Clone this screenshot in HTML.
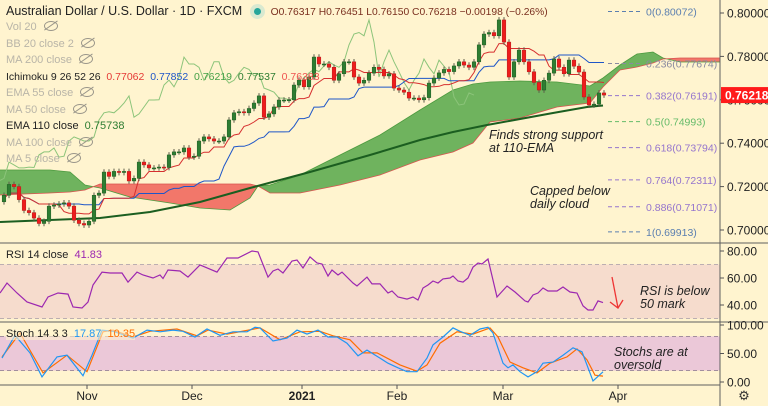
<!DOCTYPE html>
<html><head><meta charset="utf-8">
<style>
html,body{margin:0;padding:0;background:#fff4cf;}
body{width:768px;height:406px;overflow:hidden;position:relative;font-family:"Liberation Sans",sans-serif;}
svg{position:absolute;left:0;top:0;}
.lg{position:absolute;left:6px;font-size:11px;color:#b9b5a8;white-space:nowrap;}
.lg.on{color:#222;}
.eye{display:inline-block;width:12px;height:8px;border:1.3px solid #9a968a;border-radius:50%;margin-left:7px;vertical-align:-1px;position:relative;}
.eye:after{content:"";position:absolute;left:-2px;top:3px;width:16px;height:1.3px;background:#9a968a;transform:rotate(-35deg);}
.ann{position:absolute;font-style:italic;font-size:12.5px;line-height:13px;color:#222;font-family:"Liberation Sans",sans-serif;}
</style></head><body>
<svg id="chart" width="768" height="406" xmlns="http://www.w3.org/2000/svg"></svg>

<div class="lg on" style="top:4px;font-size:12.5px;color:#222">Australian Dollar / U.S. Dollar · 1D · FXCM <span style="display:inline-block;width:7px;height:7px;border-radius:50%;background:#26a69a;box-shadow:0 0 0 4px #d9e9d0;margin:0 10px 0 8px"></span><span style="color:#7a2f1f;font-size:10.3px">O0.76317 H0.76451 L0.76150 C0.76218 −0.00198 (−0.26%)</span></div>
<div class="lg" style="top:21px">Vol 20<span class="eye"></span></div>
<div class="lg" style="top:38px">BB 20 close 2<span class="eye"></span></div>
<div class="lg" style="top:54px">MA 200 close<span class="eye"></span></div>
<div class="lg on" style="top:71px;font-size:10.5px">Ichimoku 9 26 52 26 &nbsp;<span style="color:#e53935">0.77062</span> &nbsp;<span style="color:#1e56c8">0.77852</span> &nbsp;<span style="color:#43a047">0.76219</span> &nbsp;<span style="color:#2e7d32">0.77537</span> &nbsp;<span style="color:#ef5350">0.76383</span></div>
<div class="lg" style="top:87px">EMA 55 close<span class="eye"></span></div>
<div class="lg" style="top:104px">MA 50 close<span class="eye"></span></div>
<div class="lg on" style="top:120px">EMA 110 close &nbsp;<span style="color:#2e7d32">0.75738</span></div>
<div class="lg" style="top:137px">MA 100 close<span class="eye"></span></div>
<div class="lg" style="top:153px">MA 5 close<span class="eye"></span></div>
<div class="lg on" style="top:249px">RSI 14 close &nbsp;<span style="color:#9c27b0">41.83</span></div>
<div class="lg on" style="top:328px;background:rgba(255,244,207,0.6)">Stoch 14 3 3 &nbsp;<span style="color:#2196f3">17.87</span> &nbsp;<span style="color:#ff6d00">10.35</span></div>

<div class="ann" style="left:489px;top:129px">Finds strong support<br>at 110-EMA</div>
<div class="ann" style="left:530px;top:185px">Capped below<br>daily cloud</div>
<div class="ann" style="left:640px;top:285px">RSI is below<br>50 mark</div>
<div class="ann" style="left:614px;top:346px">Stochs are at<br>oversold</div>

<script>
const closes=[.716,.721,.720,.714,.709,.708,.7055,.703,.704,.711,
.7115,.712,.7125,.711,.7045,.703,.7023,.704,.716,.717,
.7267,.7247,.727,.7265,.727,.7226,.7238,.7313,.730,.7286,
.7286,.729,.7288,.7346,.736,.736,.7378,.7336,.734,.741,
.7429,.742,.741,.741,.7429,.7507,.754,.7545,.754,.756,
.7585,.7618,.752,.7535,.7567,.7599,.7599,.760,.7668,.7691,
.766,.7705,.7797,.7765,.7765,.775,.769,.772,.7775,.7775,
.7705,.7677,.769,.7723,.775,.774,.771,.772,.7654,.7645,
.7635,.7608,.7608,.760,.761,.7677,.770,.7724,.774,.773,
.7756,.7775,.776,.775,.7775,.7853,.7903,.791,.7895,.7968,
.7866,.7705,.7775,.7829,.7775,.7729,.768,.7645,.769,.7723,
.7788,.775,.772,.7783,.7755,.7728,.7613,.7576,.758,.76317,.76218];
const firstOpen=.713;
const cloudIdx=[-1,9.2,13.2,16.2,19.2,25.2,33.2,39.2,45.2,49.2,50.8,53.2,59.2,67.2,75.2,83.2,89.8,93.8,97.2,103.2,110.6,117.2,119.8,123.2,126.6,129.8,131.8,135.2,139.2,143.2];
const spanA=[.72765,.72765,.72673,.72074,.71935,.71521,.71244,.71014,.70922,.71475,.72028,.72074,.72535,.73456,.74378,.7553,.76452,.76728,.7682,.76866,.7682,.76636,.77005,.77604,.78111,.78203,.77926,.77742,.77742,.77742];
const spanB=[.71613,.71705,.71751,.71843,.7212,.7212,.7212,.7212,.7212,.7212,.72028,.71705,.71705,.72074,.72535,.73226,.73594,.74009,.74977,.75161,.75668,.75853,.7659,.77373,.77512,.77696,.7788,.77926,.77926,.77926];
const emaIdx=[-0.8,19.2,29.2,39.2,49.2,61.2,73.2,83.2,89.8,96.6,109.8,116.6,119.8];
const emaVals=[.70369,.70553,.7083,.7129,.71935,.72673,.73456,.74147,.74516,.74839,.75392,.75668,.75738];
const rsiIdx=[-0.8,0.6,2.6,4.6,7.6,8.8,10.8,12.8,13.8,15.6,16.8,17.8,19.6,21.2,23.6,24.8,26.6,27.8,29.8,31.2,31.8,32.8,35.2,36.8,39.2,42.6,44.6,46.8,49.6,50.8,52.8,53.8,54.8,55.8,57.6,58.6,59.8,61.2,62.6,63.6,64.8,65.6,66.8,67.6,69.8,70.6,72.6,73.6,75.2,76.8,77.6,78.8,80.6,81.8,82.8,83.8,84.8,85.8,86.8,87.8,89.2,89.8,90.8,91.8,92.8,93.8,94.8,95.6,96.8,98.6,100.6,102.2,104.2,104.8,105.8,106.8,107.8,108.8,110.6,111.8,113.2,114.6,115.8,116.8,117.8,118.8,119.8];
const rsiVals=[48.9,56.3,48.9,42.2,38.5,45.9,48.9,48.1,38.5,37.8,42.2,54.8,64.4,63.7,63.7,57.0,64.4,62.2,60.0,62.2,59.6,65.9,65.2,60.7,69.6,64.4,74.8,74.8,80,79.3,60.7,65.2,66.7,63.7,72.6,73.3,67.4,75.6,71.1,70.4,61.5,65.9,62.2,64.4,56.3,54.1,60.7,55.6,55.6,48.9,50.4,45.9,44.4,45.9,43.7,52.6,54.8,57.8,56.3,59.3,60,61.5,57.8,57.0,60,68.1,71.1,70.4,74.1,45.9,54.1,49.6,43.0,42.2,47.4,48.9,52.6,50.4,50.4,53.3,49.6,48.9,39.3,36.3,36.3,43.0,41.8];
const kIdx=[-0.4,2.2,5.2,7.6,10.6,12.6,15.8,17.6,19.6,21.8,25.8,28.6,31.2,33.8,35.8,38.2,40.6,43.2,45.8,48.6,50.2,51.2,53.8,56.6,58.6,60.6,62.8,64.8,66.6,68.6,70.8,72.6,75.2,76.8,78.8,80.6,82.6,84.6,85.8,87.8,89.8,91.2,93.2,95.2,96.8,97.8,99.8,100.8,101.8,103.2,104.8,106.6,107.8,109.8,111.8,113.8,115.6,117.8,119.8];
const kVals=[42,82,51,9,44,47,11,47,91,89,77,91,88,91,89,79,93,82,88,88,96,95,72,77,91,84,91,79,79,68,46,56,42,33,25,18,18,42,65,79,95,89,82,93,96,86,33,25,30,18,9,18,33,35,47,60,53,2,17.9];
const dIdx=[-0.4,3.2,7.8,12.6,16.6,19.8,21.8,25.8,29.2,34.6,38.6,40.8,44.6,51.2,55.2,59.2,63.2,65.8,69.2,71.8,74.6,79.2,82.6,84.6,87.2,90.6,93.8,97.2,98.8,101.2,103.8,106.6,109.2,112.6,114.6,116.6,118.2,119.8];
const dVals=[44,86,16,47,18,88,91,79,89,93,81,91,84,95,74,88,89,81,74,51,51,30,19,30,68,88,84,95,79,35,25,16,33,44,58,39,12,10.4];
const priceTicks=[0.80,0.78,0.76,0.74,0.72,0.70];
const rsiTicks=[80,60,40];
const stochTicks=[100,50,0];
const dateIdx=[16.6,37.6,59.6,78.6,99.8,122.8];
const dateLabels=["Nov","Dec","2021","Feb","Mar","Apr"];
const fibRatios=["0","0.236","0.382","0.5","0.618","0.764","0.886","1"];
const fibPrices=[0.80072,0.77674,0.76191,0.74993,0.73794,0.72311,0.71071,0.69913];
const fibColors=["#5b7fb0","#8a8aa0","#9575cd","#66bb6a","#9575cd","#9575cd","#9575cd","#5b7fb0"];

const NS="http://www.w3.org/2000/svg";
const svg=document.getElementById('chart');
function X(i){return 4+i*5;}
function Y(p){return 13+(0.80-p)/0.10*217;}
function RY(v){return 251+(80-v)*27/20;}
function SY(v){return 382-v*0.57;}
function el(tag,attrs,parent){const e=document.createElementNS(NS,tag);for(const k in attrs)e.setAttribute(k,attrs[k]);(parent||svg).appendChild(e);return e;}
function pts(ix,vs,f){return ix.map((i,k)=>X(i).toFixed(1)+','+f(vs[k]).toFixed(1)).join(' ');}

const defs=el('defs',{});
const cp=el('clipPath',{id:'pc'},defs);el('rect',{x:0,y:0,width:720,height:243},cp);
const cr=el('clipPath',{id:'rc'},defs);el('rect',{x:0,y:243,width:720,height:79},cr);
const cs=el('clipPath',{id:'sc'},defs);el('rect',{x:0,y:322,width:720,height:63},cs);

const pane=el('g',{'clip-path':'url(#pc)'});



for(let k=0;k<cloudIdx.length-1;k++){
  const a0=spanA[k],a1=spanA[k+1],b0=spanB[k],b1=spanB[k+1];
  const d0=a0-b0,d1=a1-b1;
  const x0=X(cloudIdx[k]),x1=X(cloudIdx[k+1]);
  const draw=(xs,as,bs,col)=>{const p=el('polygon',{points:`${xs[0]},${Y(as[0])} ${xs[1]},${Y(as[1])} ${xs[1]},${Y(bs[1])} ${xs[0]},${Y(bs[0])}`,fill:col,stroke:'none'},pane);
    
    };
  if(d0*d1<0){const t=d0/(d0-d1);const xm=x0+(x1-x0)*t;const am=a0+(a1-a0)*t;
    draw([x0,xm],[a0,am],[b0,am],d0>0?'#6fb35e':'#f2776a');
    draw([xm,x1],[am,a1],[am,b1],d1>0?'#6fb35e':'#f2776a');}
  else draw([x0,x1],[a0,a1],[b0,b1],(d0+d1)>=0?'#6fb35e':'#f2776a');
}
let pl=el('polyline',{points:pts(cloudIdx,spanA,Y),fill:'none',stroke:'#4c9a3f','stroke-width':0.8},pane);

pl=el('polyline',{points:pts(cloudIdx,spanB,Y),fill:'none',stroke:'#d9534f','stroke-width':0.8},pane);


const opens=closes.map((c,i)=>i?closes[i-1]:firstOpen);
const highs=closes.map((c,i)=>Math.max(c,opens[i])+0.0013);
const lows=closes.map((c,i)=>Math.min(c,opens[i])-0.0013);
function mid(i,n){let h=-1,l=9;for(let j=Math.max(0,i-n+1);j<=i;j++){h=Math.max(h,highs[j]);l=Math.min(l,lows[j]);}return (h+l)/2;}
const idxs=closes.map((c,i)=>i);
pl=el('polyline',{points:idxs.map(i=>X(i-26)+','+Y(closes[i]).toFixed(1)).join(' '),fill:'none',stroke:'#8cc47a','stroke-width':1},pane);

pl=el('polyline',{points:idxs.map(i=>X(i)+','+Y(mid(i,26)).toFixed(1)).join(' '),fill:'none',stroke:'#1e56c8','stroke-width':1},pane);

pl=el('polyline',{points:idxs.map(i=>X(i)+','+Y(mid(i,9)).toFixed(1)).join(' '),fill:'none',stroke:'#d62f2f','stroke-width':1},pane);

pl=el('polyline',{points:pts(emaIdx,emaVals,Y),fill:'none',stroke:'#1b5e20','stroke-width':2},pane);


closes.forEach((c,i)=>{
  const o=opens[i],up=c>=o,x=X(i);
  const g=el('g',{},pane);
  
  
  el('line',{x1:x,x2:x,y1:Y(highs[i]),y2:Y(lows[i]),stroke:'#5d5d4a','stroke-width':1},g);
  const top=Y(Math.max(o,c)),bot=Y(Math.min(o,c));
  el('rect',{x:x-1.8,y:top,width:3.6,height:Math.max(1,bot-top),fill:up?'#2e7d32':'#ee1c1c',stroke:up?'#1f5e22':'#b71c1c','stroke-width':0.5},g);
});

fibPrices.forEach((p,k)=>{
  const y=Y(p);
  const l=el('line',{x1:608,x2:641,y1:y,y2:y,stroke:fibColors[k],'stroke-width':1,'stroke-dasharray':'4,3'});
  
  const t=el('text',{x:646,y:y+4,fill:fibColors[k],'font-size':10.5,'font-family':'Liberation Sans, sans-serif'});
  t.textContent=fibRatios[k]+'('+p.toFixed(5)+')';
  
});

let r=el('rect',{x:0,y:RY(70),width:720,height:RY(30)-RY(70),fill:'#f6dccd'});

[70,30].forEach(v=>{el('line',{x1:0,x2:720,y1:RY(v),y2:RY(v),stroke:'#a89aa8','stroke-dasharray':'4,3','stroke-width':0.8});});
pl=el('polyline',{points:pts(rsiIdx,rsiVals,RY),fill:'none',stroke:'#9c27b0','stroke-width':1.2,'clip-path':'url(#rc)'});


r=el('rect',{x:0,y:SY(80),width:720,height:SY(20)-SY(80),fill:'#ebc8d8'});

[80,20].forEach(v=>{el('line',{x1:0,x2:720,y1:SY(v),y2:SY(v),stroke:'#8a7a8a','stroke-dasharray':'4,3','stroke-width':0.8});});
pl=el('polyline',{points:pts(dIdx,dVals,SY),fill:'none',stroke:'#ff6d00','stroke-width':1.2,'clip-path':'url(#sc)'});

pl=el('polyline',{points:pts(kIdx,kVals,SY),fill:'none',stroke:'#2196f3','stroke-width':1.2,'clip-path':'url(#sc)'});


[[0,243,768,243],[0,322,768,322],[0,385,720,385],[720,0,720,406]].forEach(s=>{
  const l=el('line',{x1:s[0],y1:s[1],x2:s[2],y2:s[3],stroke:'#5f5f5f','stroke-width':1});
  
});

function tick(y,txt,name){el('line',{x1:720,x2:724,y1:y,y2:y,stroke:'#555'});
  const t=el('text',{x:727,y:y+4.5,fill:'#222','font-size':12,'font-family':'Liberation Sans, sans-serif'});t.textContent=txt;
  }
priceTicks.forEach(p=>tick(Y(p),p.toFixed(5),'price-tick-label'));
rsiTicks.forEach(v=>tick(RY(v),v.toFixed(2),'rsi-tick-label'));
stochTicks.forEach(v=>tick(SY(v),v.toFixed(2),'stoch-tick-label'));
dateIdx.forEach((d,k)=>{const x=X(d);el('line',{x1:x,x2:x,y1:385,y2:389,stroke:'#555'});
  const t=el('text',{x:x,y:400,fill:'#222','font-size':12,'text-anchor':'middle','font-weight':dateLabels[k]==='2021'?'bold':'normal','font-family':'Liberation Sans, sans-serif'});
  t.textContent=dateLabels[k];});

const lastY=Y(closes[closes.length-1]);
const g=el('g',{});
el('rect',{x:721,y:lastY-8,width:47,height:16,fill:'#ff1a1a'},g);
const lt=el('text',{x:725,y:lastY+4.5,fill:'#fff','font-size':12,'font-weight':'bold','font-family':'Liberation Sans, sans-serif'},g);lt.textContent=closes[closes.length-1].toFixed(5);

const ar=el('g',{stroke:'#ee3333','stroke-width':1.3,fill:'none'});

el('line',{x1:612,y1:277,x2:618,y2:308},ar);
el('polyline',{points:'610,302 618,308 623,300'},ar);

const gt=el('text',{x:744,y:400,fill:'#333','font-size':13,'text-anchor':'middle'});gt.textContent='⚙';

</script>
</body></html>
